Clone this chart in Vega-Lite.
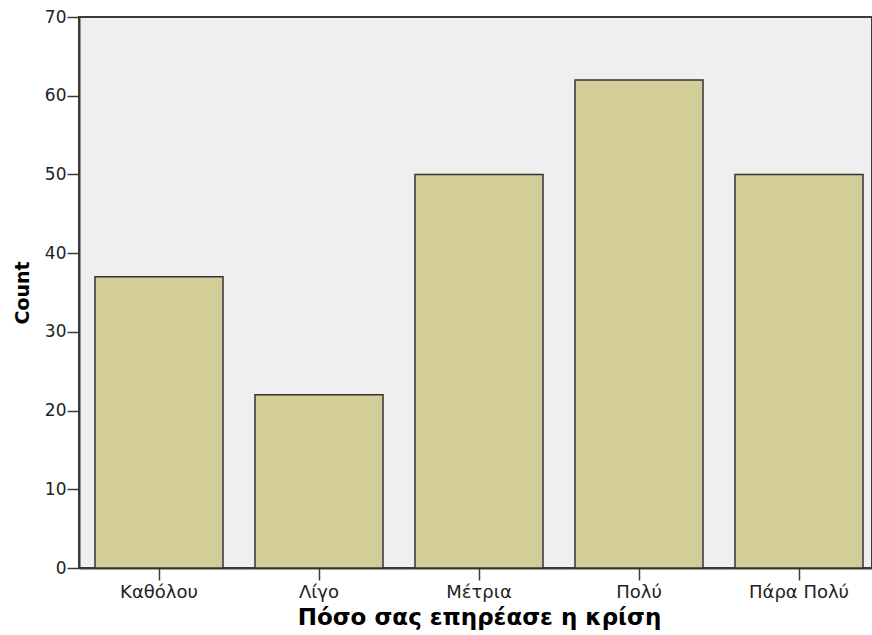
{
  "$schema": "https://vega.github.io/schema/vega-lite/v6.json",
  "autosize": "none",
  "padding": {"left": 79, "top": 17, "right": 0, "bottom": 67},
  "width": 793,
  "height": 551,
  "background": "white",
  "config": {
    "view": {"fill": "#efefef", "stroke": "#3a3a3a", "strokeWidth": 2},
    "axis": {
      "domainColor": "#3a3a3a",
      "domainWidth": 2,
      "tickColor": "#3a3a3a",
      "tickWidth": 1.5,
      "tickSize": 12,
      "labelColor": "#222",
      "labelFont": "DejaVu Sans",
      "labelFontSize": 16,
      "titleFont": "DejaVu Sans",
      "titleFontWeight": "bold",
      "titleColor": "#000",
      "grid": false
    }
  },
  "data": {
    "values": [
      {"category": "Καθόλου", "count": 37},
      {"category": "Λίγο", "count": 22},
      {"category": "Μέτρια", "count": 50},
      {"category": "Πολύ", "count": 62},
      {"category": "Πάρα Πολύ", "count": 50}
    ]
  },
  "mark": {"type": "bar", "fill": "#d3ce97", "stroke": "#333333", "strokeWidth": 1.5},
  "encoding": {
    "x": {
      "field": "category",
      "type": "nominal",
      "sort": null,
      "scale": {"range": [0, 800], "paddingInner": 0.2, "paddingOuter": 0.1},
      "axis": {"title": "Πόσο σας επηρέασε η κρίση", "titleFontSize": 23, "labelFontSize": 18, "labelAngle": 0, "labelPadding": 3, "titlePadding": 5, "titleX": 400}
    },
    "y": {
      "field": "count",
      "type": "quantitative",
      "scale": {"domain": [0, 70]},
      "axis": {"title": "Count", "titleFontSize": 19, "labelFontSize": 17, "values": [0, 10, 20, 30, 40, 50, 60, 70], "labelPadding": 1, "titlePadding": 12}
    }
  }
}
